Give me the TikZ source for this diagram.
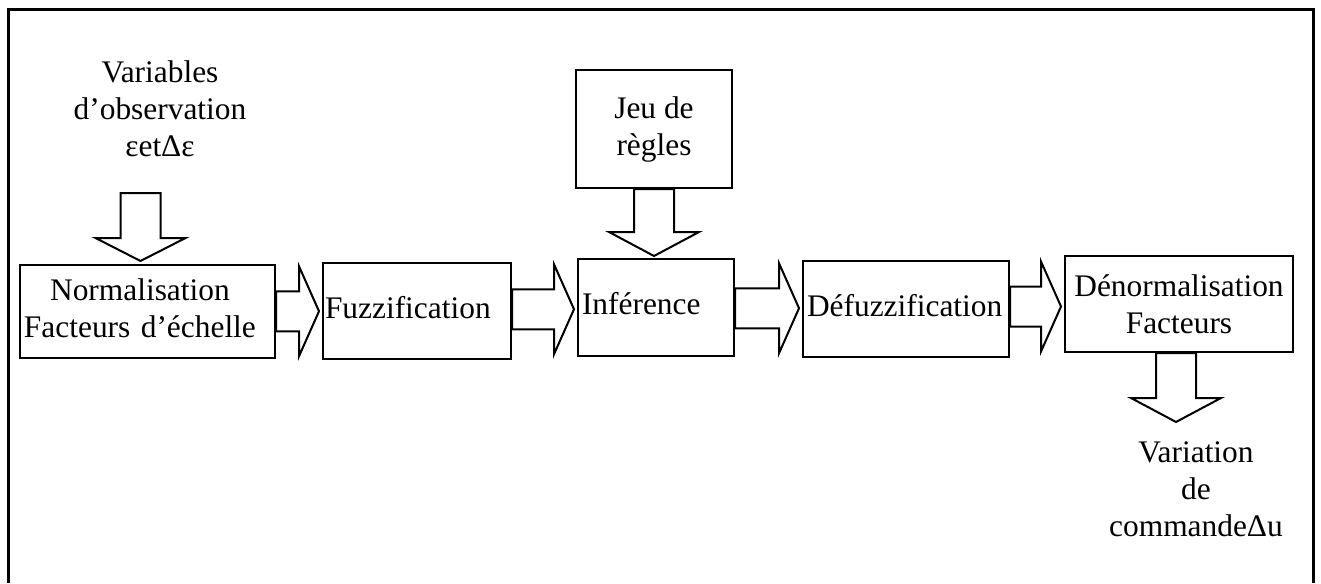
\documentclass[tikz,border=0pt]{standalone}
\usepackage{fontspec}
\setmainfont{Liberation Serif}
\usetikzlibrary{calc}

% text size used throughout the chart
\newcommand\chartfont{\fontsize{15.7pt}{18.5pt}\selectfont}

\tikzset{
  box/.style={draw, line width=1pt, inner ysep=0pt, inner xsep=2pt, font=\chartfont},
  leftbox/.style={box, align=left, text height=10.5pt, text depth=3.5pt},
  centerbox/.style={box, align=center},
  txt/.style={inner sep=0pt, align=center, font=\chartfont},
  fatarrow/.style={draw, line width=1pt, fill=white, line join=miter},
  frame/.style={draw, line width=1.5pt},
}

% hollow block arrow from a tail coordinate to a tip coordinate
% #1 = head length, #2 = tail, #3 = tip
\newcommand\fatarrow[3][10pt]{%
  \coordinate (fa-b) at ($(#3)!#1!(#2)$);
  \draw[fatarrow]
    ($(#2)!10pt!90:(#3)$) -- ($(fa-b)!10pt!-90:(#2)$) -- ($(fa-b)!22.5pt!-90:(#2)$)
    -- (#3)
    -- ($(fa-b)!22.5pt!90:(#2)$) -- ($(fa-b)!10pt!90:(#2)$) -- ($(#2)!10pt!-90:(#3)$)
    -- cycle;
}

% horizontal block arrow between two boxes: #1 = from, #2 = to, #3 = name prefix
\newcommand\hlink[3]{%
  \coordinate (#3-m) at ($(#1.east)!.5!(#2.west)$);
  \coordinate (#3-s) at (#1.east |- #3-m);
  \coordinate (#3-t) at ($(#2.west |- #3-m)+(-3,0)$);
  \fatarrow{#3-s}{#3-t}%
}

\begin{document}
\begin{tikzpicture}[x=0.5pt, y=-0.5pt]
  \useasboundingbox (0,0) rectangle (1321,583);

  % surrounding frame (open at the bottom)
  \draw[frame] (8,583) -- (8,10) -- (1313,10) -- (1313,583);

  % processing chain
  \node[box, align=left, minimum width=127.5pt, minimum height=46.5pt, text width=123.5pt]
    (norm) at (147.5,311.5)
    {\begin{tabular}{@{}c@{}}Normalisation\\Facteurs d’échelle\end{tabular}};
  \node[leftbox, inner xsep=1pt, minimum width=94pt, minimum height=48pt, text width=92pt]
    (fuz) at (417,311) {Fuzzification};
  \node[leftbox, minimum width=78pt, minimum height=48.5pt, text width=74pt]
    (inf) at (656,307.5) {Inférence};
  \node[leftbox, minimum width=103pt, minimum height=48pt, text width=99pt]
    (defuz) at (906,309) {Défuzzification};
  \node[centerbox, minimum width=114pt, minimum height=48pt]
    (denorm) at (1179,304) {Dénormalisation\\Facteurs};

  % rule base
  \node[centerbox, minimum width=78pt, minimum height=59pt]
    (rules) at (654,129) {Jeu de\\règles};

  % inputs and output
  \node[txt] (obs) at (160,109) {Variables\\d’observation\\εetΔε};
  \node[txt] (cmd) at (1196,489.5) {Variation\\de\\commandeΔu};

  % observation variables into the normalisation stage
  \coordinate (in-s) at (140.5,193);
  \coordinate (in-t) at ($(in-s |- norm.north)+(0,-3)$);
  \fatarrow[11.5pt]{in-s}{in-t}

  % rules into the inference stage
  \coordinate (r-t) at ($(rules.south |- inf.north)+(0,-2)$);
  \fatarrow[12pt]{rules.south}{r-t}

  % chain links
  \hlink{norm}{fuz}{a1}
  \hlink{fuz}{inf}{a2}
  \hlink{inf}{defuz}{a3}
  \hlink{defuz}{denorm}{a4}

  % control variation out of the denormalisation stage
  \coordinate (o-x) at (1176,0);
  \coordinate (o-s) at (denorm.south -| o-x);
  \coordinate (o-t) at (1176,422);
  \fatarrow[12pt]{o-s}{o-t}
\end{tikzpicture}
\end{document}
